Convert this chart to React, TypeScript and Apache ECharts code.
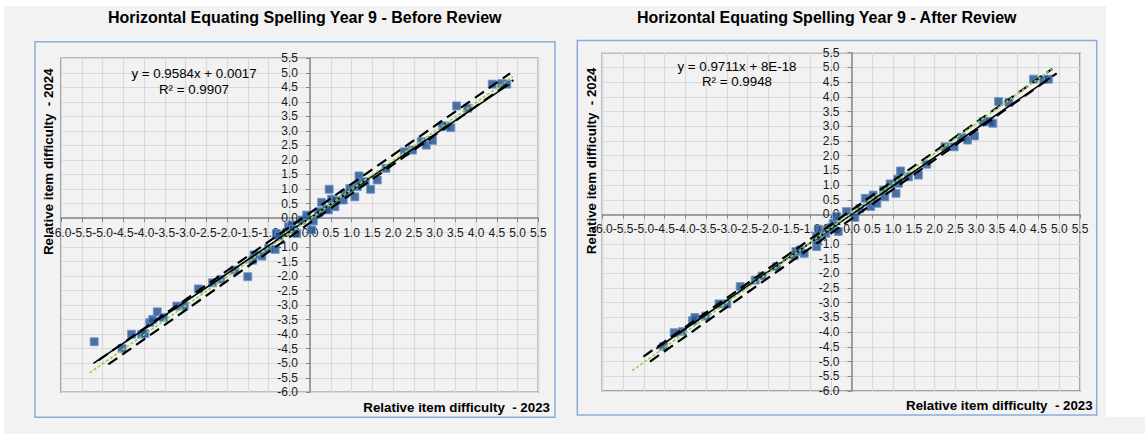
import React, { useEffect, useRef } from "react";
import * as echarts from "echarts";

// ---- axis ticks ----
const AXIS_MIN = -6.0;
const AXIS_MAX = 5.5;
const AXIS_STEP = 0.5;

// ---- titles / labels ----
const TITLES = [
  "Horizontal Equating Spelling Year 9 - Before Review",
  "Horizontal Equating Spelling Year 9 - After Review",
];
const X_TITLE = "Relative item difficulty  - 2023";
const Y_TITLE = "Relative item difficulty  - 2024";
const EQUATIONS = ["y = 0.9584x + 0.0017", "y = 0.9711x + 8E-18"];
const R_SQUARED = ["R\u00b2 = 0.9907", "R\u00b2 = 0.9948"];

// ---- Before review: item difficulties ----
const BEFORE_X = [-5.2, -4.53, -4.3, -4.06, -3.98, -3.86, -3.79, -3.68, -3.53, -3.21, -3.03, -2.69, -2.35, -2.15, -1.81, -1.5, -1.38, -1.35, -1.16, -1.0, -0.84, -0.81, -0.75, -0.52, -0.44, -0.4, -0.32, -0.2, -0.08, 0.04, 0.08, 0.2, 0.24, 0.28, 0.4, 0.44, 0.46, 0.52, 0.6, 0.62, 0.8, 0.84, 0.96, 1.08, 1.14, 1.18, 1.2, 1.33, 1.46, 1.62, 1.83, 2.27, 2.47, 2.68, 2.8, 2.95, 3.19, 3.27, 3.39, 3.53, 3.8, 4.39, 4.62, 4.74];
const BEFORE_Y = [-4.26, -4.49, -4.0, -4.0, -3.98, -3.6, -3.49, -3.23, -3.42, -3.03, -3.03, -2.44, -2.23, -2.11, -1.79, -2.02, -1.45, -1.27, -1.31, -1.05, -1.08, -0.53, -0.62, -0.3, -0.24, -0.39, -0.53, -0.07, 0.1, -0.41, -0.1, 0.15, 0.22, 0.54, 0.3, 0.28, 0.99, 0.65, 0.39, 0.6, 0.62, 0.83, 1.02, 0.73, 1.08, 1.45, 1.2, 1.25, 0.99, 1.31, 1.71, 2.28, 2.34, 2.63, 2.51, 2.67, 3.17, 3.17, 3.11, 3.86, 3.78, 4.61, 4.63, 4.61];

// ---- After review: item difficulties ----
const AFTER_X = [-4.53, -4.27, -4.07, -3.83, -3.77, -3.51, -3.19, -3.0, -2.68, -2.32, -2.15, -1.8, -1.38, -1.34, -1.24, -1.14, -0.84, -0.82, -0.84, -0.8, -0.62, -0.5, -0.44, -0.36, -0.32, -0.12, 0.08, 0.2, 0.33, 0.46, 0.52, 0.61, 0.77, 0.8, 0.93, 1.07, 1.11, 1.13, 1.18, 1.37, 1.61, 1.81, 2.25, 2.47, 2.65, 2.79, 2.96, 3.17, 3.32, 3.4, 3.54, 3.79, 4.38, 4.62, 4.74];
const AFTER_Y = [-4.49, -4.02, -3.98, -3.61, -3.5, -3.45, -3.04, -3.04, -2.45, -2.23, -2.09, -1.77, -1.4, -1.26, -1.21, -1.32, -1.09, -0.9, -0.75, -0.5, -0.64, -0.45, -0.3, -0.07, -0.58, 0.1, -0.1, 0.2, 0.55, 0.27, 0.66, 0.38, 0.83, 0.6, 1.04, 0.72, 1.2, 1.06, 1.48, 1.28, 1.34, 1.71, 2.3, 2.3, 2.63, 2.53, 2.67, 3.15, 3.17, 3.1, 3.84, 3.81, 4.6, 4.59, 4.6];

// ---- trend lines (slope, intercept, x extent) ----
const SLOPES = [0.9584, 0.9711];
const INTERCEPTS = [0.0017, 8e-18];
const TREND_X = [
  [-5.22, 4.8],
  [-4.7, 4.78],
];
// ---- dashed band lines (endpoints) ----
const UPPER_DASH_X = [[-5.1, 4.82], [-5.01, 4.83]];
const UPPER_DASH_Y = [[-4.9, 4.98], [-4.83, 4.95]];
const LOWER_DASH_X = [[-4.86, 4.9], [-4.85, 4.94]];
const LOWER_DASH_Y = [[-5.04, 4.75], [-5.0, 4.8]];
// ---- identity (green dotted) endpoints ----
const IDENT_X = [[-5.31, 4.89], [-5.28, 4.82]];
const IDENT_Y = [[-5.33, 4.87], [-5.31, 4.94]];

const GRIDS = [
  { left: 61, top: 58.3, width: 477.3, height: 334 },
  { left: 602.3, top: 52.7, width: 477.7, height: 338.3 },
];

const FONT = '"Liberation Sans", Arial, sans-serif';

function pairs(xs: number[], ys: number[]) {
  return xs.map((x, i) => [x, ys[i]]);
}

export default function App() {
  const ref = useRef<HTMLDivElement>(null);
  useEffect(() => {
    document.body.style.margin = "0";
    const chart = echarts.init(ref.current!, null, { renderer: "svg" });

    // fraction of the axis span that lies below zero (to move axes onto the origin)
    const zeroFrac = (0 - AXIS_MIN) / (AXIS_MAX - AXIS_MIN);

    const labelCommon = {
      formatter: (v: number) => v.toFixed(1),
      fontSize: 12,
      fontFamily: FONT,
      color: "#1a1a1a",
      hideOverlap: false,
      showMinLabel: true,
      showMaxLabel: true,
    };

    const mkX = (gi: number) => ({
      type: "value",
      gridIndex: gi,
      position: "bottom",
      offset: -GRIDS[gi].height * zeroFrac,
      min: AXIS_MIN,
      max: AXIS_MAX,
      interval: AXIS_STEP,
      axisLine: { show: true, onZero: false, lineStyle: { color: "#868686", width: 1.5 } },
      axisTick: { show: true, length: 4, lineStyle: { color: "#868686", width: 1 } },
      axisLabel: { ...labelCommon, margin: 9 },
      splitLine: { show: true, lineStyle: { color: "#d9d9d9", width: 1.2 } },
    });
    const mkY = (gi: number) => ({
      type: "value",
      gridIndex: gi,
      position: "left",
      offset: -GRIDS[gi].width * zeroFrac,
      min: AXIS_MIN,
      max: AXIS_MAX,
      interval: AXIS_STEP,
      axisLine: { show: true, onZero: false, lineStyle: { color: "#868686", width: 1.5 } },
      axisTick: { show: true, length: 4, lineStyle: { color: "#868686", width: 1 } },
      axisLabel: { ...labelCommon, margin: 12 },
      splitLine: { show: true, lineStyle: { color: "#d9d9d9", width: 1.2 } },
    });

    const series: any[] = [];
    const scatterData = [pairs(BEFORE_X, BEFORE_Y), pairs(AFTER_X, AFTER_Y)];
    [0, 1].forEach((gi) => {
      series.push({
        type: "scatter",
        xAxisIndex: gi,
        yAxisIndex: gi,
        data: scatterData[gi],
        symbol: "rect",
        symbolSize: 8,
        itemStyle: { color: "#1f4f8c", borderColor: "#6f98cf", borderWidth: 1 },
        z: 2,
        silent: true,
      });
      series.push({
        type: "line",
        xAxisIndex: gi,
        yAxisIndex: gi,
        data: TREND_X[gi].map((x) => [x, SLOPES[gi] * x + INTERCEPTS[gi]]),
        symbol: "none",
        lineStyle: { color: "#000", width: 1.6 },
        z: 3,
        silent: true,
      });
      series.push({
        type: "line",
        xAxisIndex: gi,
        yAxisIndex: gi,
        data: pairs(UPPER_DASH_X[gi], UPPER_DASH_Y[gi]),
        symbol: "none",
        lineStyle: { color: "#000", width: 2.2, type: [11, 6] },
        z: 4,
        silent: true,
      });
      series.push({
        type: "line",
        xAxisIndex: gi,
        yAxisIndex: gi,
        data: pairs(LOWER_DASH_X[gi], LOWER_DASH_Y[gi]),
        symbol: "none",
        lineStyle: { color: "#000", width: 2.2, type: [11, 6] },
        z: 4,
        silent: true,
      });
      series.push({
        type: "line",
        xAxisIndex: gi,
        yAxisIndex: gi,
        data: pairs(IDENT_X[gi], IDENT_Y[gi]),
        symbol: "none",
        lineStyle: { color: "#8fd14f", width: 1.6, type: [3, 2] },
        z: 5,
        silent: true,
      });
    });

    const text = (t: string, x: number, y: number, size: number, weight: string, align: string, rot = 0) => ({
      type: "text",
      x,
      y,
      rotation: rot,
      z: 10,
      style: {
        text: t,
        fontSize: size,
        fontWeight: weight,
        fontFamily: FONT,
        fill: "#000",
        textAlign: align,
        textVerticalAlign: "middle",
      },
    });

    const graphic: any[] = [
      { type: "rect", shape: { x: 0, y: 0, width: 1145, height: 6 }, style: { fill: "#ffffff" }, z: 0 },
      { type: "rect", shape: { x: 0, y: 0, width: 4, height: 434 }, style: { fill: "#ffffff" }, z: 0 },
      { type: "rect", shape: { x: 1106, y: 0, width: 39, height: 417 }, style: { fill: "#ffffff" }, z: 0 },
      { type: "rect", shape: { x: 35, y: 41.7, width: 520, height: 375.6 }, style: { fill: "none", stroke: "#8eaadb", lineWidth: 1.5 }, z: 1 },
      { type: "rect", shape: { x: 577.3, y: 40.5, width: 519.4, height: 374.5 }, style: { fill: "none", stroke: "#8eaadb", lineWidth: 1.5 }, z: 1 },
      text(TITLES[0], 304.7, 17.5, 16, "bold", "center"),
      text(TITLES[1], 826.7, 17.5, 16, "bold", "center"),
      text(Y_TITLE, 48, 161.7, 13.33, "bold", "center", Math.PI / 2),
      text(Y_TITLE, 591.3, 160.8, 13.33, "bold", "center", Math.PI / 2),
      text(X_TITLE, 550, 407, 13.33, "bold", "right"),
      text(X_TITLE, 1092.7, 405, 13.33, "bold", "right"),
      text(EQUATIONS[0], 194, 73.3, 13.33, "normal", "center"),
      text(R_SQUARED[0], 194, 89.3, 13.33, "normal", "center"),
      text(EQUATIONS[1], 737, 66, 13.33, "normal", "center"),
      text(R_SQUARED[1], 737, 81.7, 13.33, "normal", "center"),
    ];

    chart.setOption({
      animation: false,
      backgroundColor: "#f2f2f2",
      grid: GRIDS.map((g) => ({
        ...g,
        containLabel: false,
        outerBoundsMode: "none",
        show: true,
        borderColor: "#868686",
        borderWidth: 1.5,
        backgroundColor: "transparent",
      })),
      xAxis: [mkX(0), mkX(1)],
      yAxis: [mkY(0), mkY(1)],
      series,
      graphic,
    });
    return () => chart.dispose();
  }, []);
  return (
    <div
      ref={ref}
      style={{ position: "fixed", left: 0, top: 0, width: 1145, height: 434 }}
    />
  );
}
